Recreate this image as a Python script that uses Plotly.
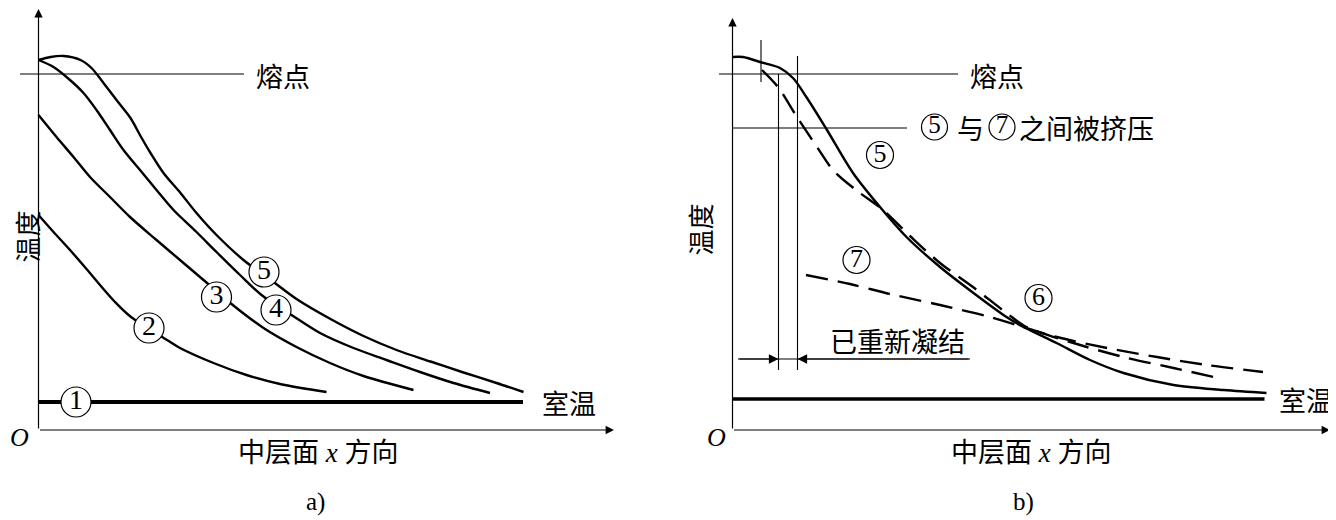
import plotly.graph_objects as go

# ---------------- data (panel a) ----------------
# x: distance along mid-plane (arbitrary units), y: temperature (arbitrary units)
a_x5 = [0, 12, 25, 42, 53, 65, 78, 92, 102, 112, 125, 142, 158, 178, 205, 235, 258, 292, 325, 358, 392, 425, 458, 485]
a_y5 = [370, 373, 374, 370, 362, 347, 330, 312, 294, 277, 257, 237, 217, 195, 170, 148, 131, 111, 94, 80, 68.5, 57.5, 47, 38]
a_x4 = [0, 15, 31.5, 45, 58, 71.5, 85, 101.5, 118, 135, 158, 178, 201.5, 223, 253, 281.5, 315, 348, 381.5, 415, 451.5]
a_y4 = [370, 363, 350, 337, 320, 300, 280, 260, 240, 220, 198, 178, 155, 135, 115, 97, 82, 70, 58, 47, 37]
a_x3 = [0, 18, 35, 51.5, 71.5, 91.5, 118, 141.5, 165, 193, 225, 258, 291.5, 325, 375]
a_y3 = [315, 293, 273, 253, 233, 213, 190, 170, 150, 126, 102, 83, 67, 54, 40]
a_x2 = [0, 15, 31.5, 48, 61.5, 76.5, 92.5, 128.5, 141.5, 175, 208, 241.5, 288]
a_y2 = [215, 198, 180, 161, 145, 128, 113, 90, 82, 67, 55, 46, 38]
a_x1 = [0, 484.5]
a_y1 = [28, 28]
a_melt_x = [-18.5, 205.5]
a_melt_y = [356, 356]
a_lbl_x = [37.5, 110.5, 178, 237.5, 225.5]
a_lbl_y = [28, 102, 133, 120, 158]
a_lbl_t = ["1", "2", "3", "4", "5"]

# ---------------- data (panel b) ----------------
b_x5 = [0, 10.5, 27.5, 47.5, 60.5, 74.5, 94.5, 120.5, 147.5, 174, 207.5, 241, 274, 291, 324, 357.5, 391, 441, 491, 534]
b_y5 = [373, 373, 368, 362, 352, 332, 300, 257, 223, 193, 163, 137, 113, 103, 87, 70, 57, 45, 40, 37]
b_x6 = [29.5, 45.5, 64.5, 84.5, 100.5, 123.5, 150.5, 177.5, 207.5, 240.5, 274, 294, 341, 391, 441, 481]
b_y6 = [360, 343, 313, 283, 260, 240, 220, 194, 167, 143, 117, 103, 87, 73, 62, 53]
b_x7 = [73.5, 117.5, 157.5, 207.5, 257.5, 290.5, 324.5, 374.5, 424.5, 474.5, 530.5]
b_y7 = [155, 146, 136, 125, 113, 103, 93, 82, 73, 65, 58]
b_room_x = [0, 532]
b_room_y = [31, 31]
b_melt_x = [-13.5, 225.5]
b_melt_y = [356, 356]
b_sq_x = [0, 174.5]
b_sq_y = [302, 302]
b_v1 = ([28.5, 28.5], [390, 348])
b_v2 = ([46, 46], [356, 60])
b_v3 = ([65, 65], [374, 60])
b_lbl_x = [147.5, 124, 306]
b_lbl_y = [275, 170, 132]
b_lbl_t = ["5", "7", "6"]
b_inl_x = [202, 269.5]
b_inl_y = [303, 303]
b_inl_t = ["5", "7"]

FONT = "Liberation Serif, Noto Sans CJK SC, serif"
CJK = "Noto Sans CJK SC, Liberation Serif"
CJK_SIZE = 27

# the page body adds an 8 px margin; shift the ranges so marks land where intended
OFF = 8

fig = go.Figure()

def line(x, y, xa, ya, w=2.4, dash="solid"):
    fig.add_trace(go.Scatter(x=x, y=y, xaxis=xa, yaxis=ya, mode="lines",
                             line=dict(color="black", width=w, dash=dash, shape="spline", smoothing=0.9),
                             hoverinfo="skip", showlegend=False))

# panel a
line(a_melt_x, a_melt_y, "x", "y", 1.1)
line(a_x1, a_y1, "x", "y", 3.8)
line(a_x2, a_y2, "x", "y")
line(a_x3, a_y3, "x", "y")
line(a_x4, a_y4, "x", "y")
line(a_x5, a_y5, "x", "y")

# panel b
line(b_melt_x, b_melt_y, "x2", "y2", 1.1)
line(b_sq_x, b_sq_y, "x2", "y2", 1.1)
for vx, vy in (b_v1, b_v2, b_v3):
    line(vx, vy, "x2", "y2", 1.1)
line([5.5, 237.5], [71, 71], "x2", "y2", 1.1)
line(b_room_x, b_room_y, "x2", "y2", 3.3)
line(b_x5, b_y5, "x2", "y2", 2.4)
line(b_x6, b_y6, "x2", "y2", 2.4, "22px,10px")
line(b_x7, b_y7, "x2", "y2", 2.4, "22px,10px")

def circles(x, y, t, xa, ya, size, fsize):
    fig.add_trace(go.Scatter(x=x, y=y, xaxis=xa, yaxis=ya, mode="markers+text", text=t,
                             textposition="middle center",
                             textfont=dict(family=FONT, size=fsize, color="black"),
                             marker=dict(symbol="circle", size=size, color="white",
                                         line=dict(color="black", width=1.2)),
                             cliponaxis=False, hoverinfo="skip", showlegend=False))

circles(a_lbl_x, a_lbl_y, a_lbl_t, "x", "y", 30, 28)
circles(b_lbl_x, b_lbl_y, b_lbl_t, "x2", "y2", 27, 26)
circles(b_inl_x, b_inl_y, b_inl_t, "x2", "y2", 26, 25)

ann = []
def text(x, y, s, xr, yr, size=CJK_SIZE, xanchor="center", angle=0, fam=CJK):
    ann.append(dict(x=x, y=y, xref=xr, yref=yr, text=s, showarrow=False, xanchor=xanchor,
                    yanchor="middle", textangle=angle, font=dict(family=fam, size=size, color="black")))

def arrow(x0, y0, x1, y1, xr, yr, size=1.4):
    ann.append(dict(x=x1, y=y1, ax=x0, ay=y0, xref=xr, yref=yr, axref=xr, ayref=yr, text="",
                    showarrow=True, arrowhead=2, arrowsize=size, arrowwidth=1.2, arrowcolor="black",
                    standoff=0, startstandoff=0))

# axes panel a
arrow(0, 0, 0, 421, "x", "y")
arrow(0, 0, 575.5, 0, "x", "y")
# axes panel b
arrow(0, 0, 0, 412, "x2", "y2")
arrow(0, 0, 597.5, 0, "x2", "y2")
# dimension arrows panel b
arrow(5.5, 71, 46, 71, "x2", "y2", 1.6)
arrow(237.5, 71, 65, 71, "x2", "y2", 1.6)

# texts panel a
text(215.5, 355, "熔点", "x", "y", xanchor="left")
text(501.5, 28, "室温", "x", "y", xanchor="left")
text(279.5, -23, "中层面 <i>x</i> 方向", "x", "y", fam=FONT)
text(276.5, -72, "a)", "x", "y", size=25, fam="Liberation Serif")
text(-19, -7, "<i>O</i>", "x", "y", size=26, fam="Liberation Serif")
text(-13, 193, "温度", "x", "y", size=26, angle=-90)

# texts panel b
text(235.5, 355, "熔点", "x2", "y2", xanchor="left")
text(602.5, 31, "室温", "x2", "y2", xanchor="right")
text(237.5, 303, "与", "x2", "y2")
text(284.5, 303, "之间被挤压", "x2", "y2", xanchor="left")
text(165, 90, "已重新凝结", "x2", "y2")
text(298.5, -23, "中层面 <i>x</i> 方向", "x2", "y2", fam=FONT)
text(290.5, -72, "b)", "x2", "y2", size=25, fam="Liberation Serif")
text(-16.5, -7, "<i>O</i>", "x2", "y2", size=26, fam="Liberation Serif")
text(-34, 200, "温度", "x2", "y2", size=26, angle=-90)

hidden = dict(visible=False, showgrid=False, zeroline=False, fixedrange=True)
fig.update_layout(
    width=1336, height=520,
    margin=dict(l=0, r=0, t=0, b=0),
    paper_bgcolor="white", plot_bgcolor="white",
    xaxis=dict(domain=[0, 0.5], range=[-38.5 + OFF, 629.5 + OFF], **hidden),
    yaxis=dict(domain=[0, 1], range=[-90 - OFF, 430 - OFF], **hidden),
    xaxis2=dict(domain=[0.5, 1], range=[-64.5 + OFF, 603.5 + OFF], anchor="y2", **hidden),
    yaxis2=dict(domain=[0, 1], range=[-90 - OFF, 430 - OFF], anchor="x2", **hidden),
    annotations=ann,
    showlegend=False,
)

fig.write_html("out.html")
